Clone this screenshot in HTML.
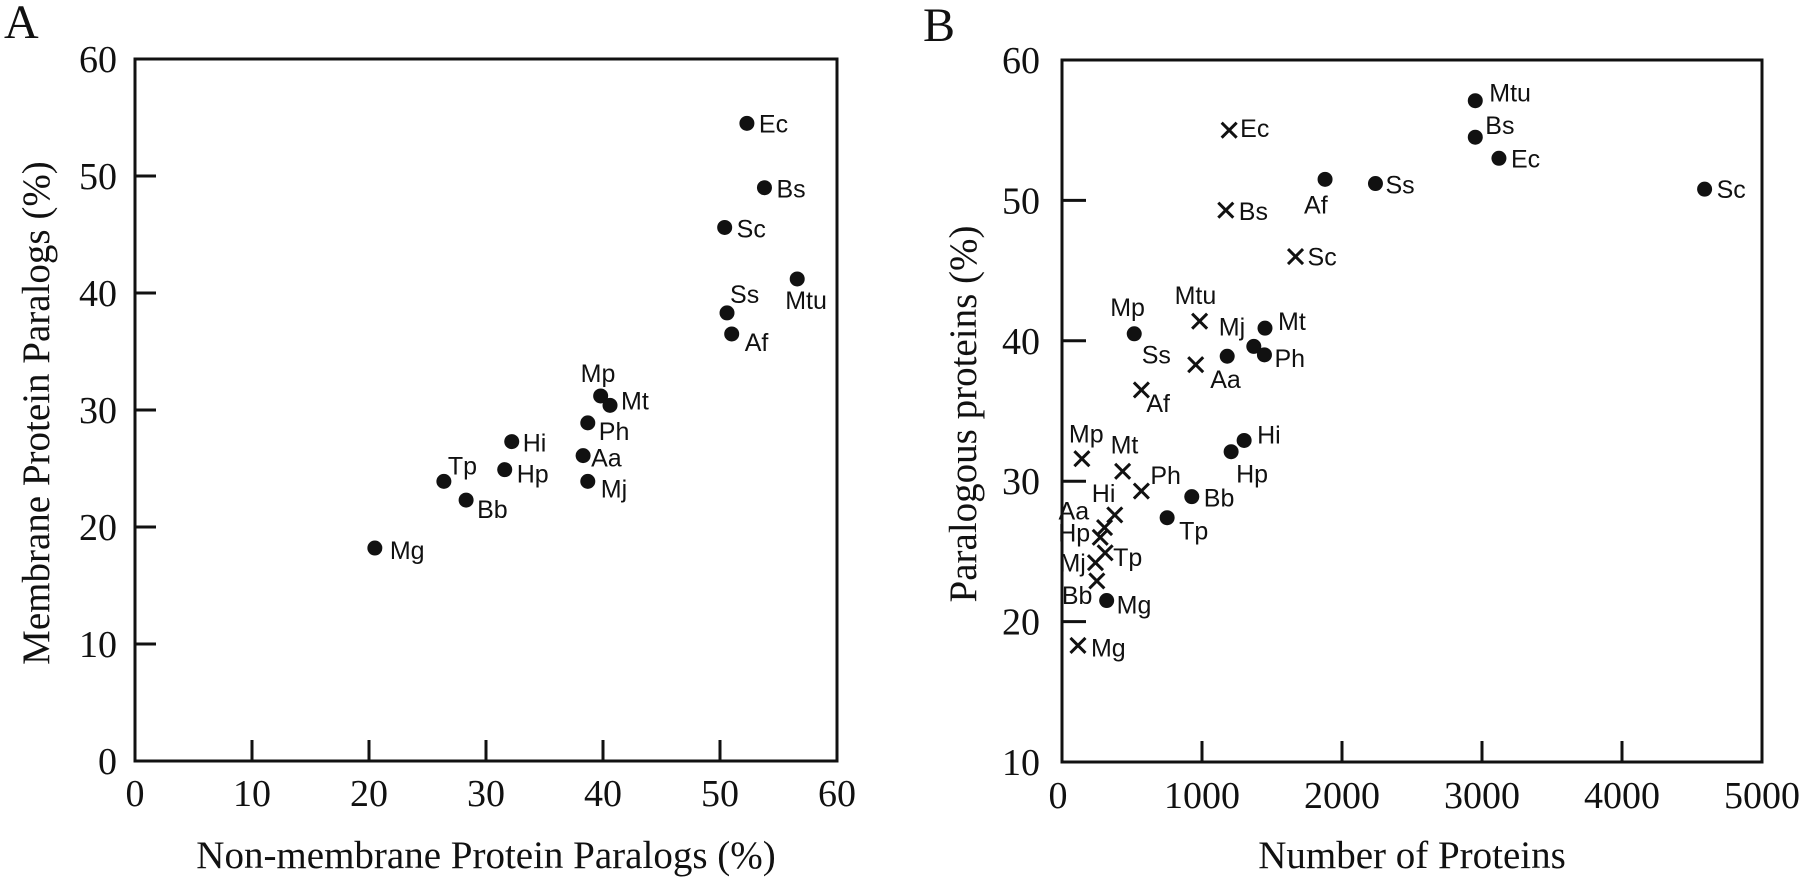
<!DOCTYPE html>
<html><head><meta charset="utf-8"><style>
html,body{margin:0;padding:0;background:#fff;}
svg{display:block;}
.tick{font-family:"Liberation Serif",serif;font-size:38px;fill:#111;}
.title{font-family:"Liberation Serif",serif;font-size:39px;fill:#111;}
.lbl{font-family:"Liberation Sans",sans-serif;font-size:25px;fill:#111;}
.panel{font-family:"Liberation Serif",serif;font-size:48px;fill:#111;}
</style></head><body>
<svg id="fig" width="1800" height="879" viewBox="0 0 1800 879" xmlns="http://www.w3.org/2000/svg"></svg>
<script>
// Panel A data
const aNames = ["Ec","Bs","Sc","Mtu","Ss","Af","Mp","Mt","Ph","Aa","Mj","Hi","Hp","Tp","Bb","Mg"];
const aX = [52.3,53.8,50.4,56.6,50.6,51.0,39.8,40.6,38.7,38.3,38.7,32.2,31.6,26.4,28.3,20.5];
const aY = [54.5,49.0,45.6,41.2,38.3,36.5,31.2,30.4,28.9,26.1,23.9,27.3,24.9,23.9,22.3,18.2];
const aTicks = [0,10,20,30,40,50,60];
// Panel B data: dots
const bDotNames = ["Mtu","Bs","Ec","Af","Ss","Sc","Mp","Mt","Mj","Ph","Aa","Hi","Hp","Bb","Tp","Mg"];
const bDotX = [2952,2952,3121,1879,2239,4590,516,1450,1370,1446,1180,1301,1208,927,751,319];
const bDotY = [57.1,54.5,53.0,51.5,51.2,50.8,40.5,40.9,39.6,39.0,38.9,32.9,32.1,28.9,27.4,21.5];
// Panel B data: crosses
const bCrossNames = ["Ec","Bs","Sc","Mtu","Ss","Af","Mp","Mt","Ph","Hi","Aa","Hp","Tp","Mj","Bb","Mg"];
const bCrossX = [1194,1170,1668,983,955,567,142,433,567,377,304,273,308,239,249,114];
const bCrossY = [55.0,49.3,46.0,41.4,38.3,36.5,31.6,30.7,29.3,27.6,26.7,26.0,24.9,24.2,22.9,18.3];
const bXTicks = [0,1000,2000,3000,4000,5000];
const bYTicks = [10,20,30,40,50,60];

// layout (label offsets in px)
const aOff = [[12,9],[12,10],[12,10],[-12,30],[3,-10],[13,17],[-20,-14],[11,4],[11,17],[8,11],[13,16],[11,10],[12,13],[4,-7],[11,18],[15,11]];
const bDotOff = [[14,1],[10,-3],[12,9],[-21,34],[10,10],[12,9],[-24,-18],[13,2],[-35,-11],[10,12],[-17,32],[13,3],[5,31],[12,10],[12,22],[10,13]];
const bCrossOff = [[11,7],[13,10],[12,9],[-25,-17],[-54,-1],[5,22],[-13,-16],[-12,-18],[9,-7],[-23,-13],[-46,-8],[-42,4],[8,13],[-36,9],[-35,23],[13,11]];

const NS="http://www.w3.org/2000/svg";
const svg=document.getElementById('fig');
function mk(tag,attrs,parent){const e=document.createElementNS(NS,tag);for(const k in attrs)e.setAttribute(k,attrs[k]);(parent||svg).appendChild(e);return e;}

const A={x0:135,x1:837,y0:761,y1:59,xmin:0,xmax:60,ymin:0,ymax:60};
const B={x0:1062,x1:1762,y0:762,y1:60,xmin:0,xmax:5000,ymin:10,ymax:60};
function sx(p,v){return p.x0+(v-p.xmin)/(p.xmax-p.xmin)*(p.x1-p.x0);}
function sy(p,v){return p.y0-(v-p.ymin)/(p.ymax-p.ymin)*(p.y0-p.y1);}

function frame(p,g){
  const r=mk('rect',{x:p.x0,y:p.y1,width:p.x1-p.x0,height:p.y0-p.y1,fill:'none',stroke:'#111','stroke-width':3},g);
  
  
}
function text(str,x,y,cls,g,anchor,name){
  const t=mk('text',{x:x,y:y,class:cls,'text-anchor':anchor||'start'},g);t.textContent=str;
  
  
  return t;
}

// ---- Panel A
const gA=mk('g',{});


text('A',4,38,'panel',gA,'start','panel-a-letter');
frame(A,gA);
aTicks.forEach(v=>{
  const x=sx(A,v), y=sy(A,v);
  if(v>0&&v<60){
    const l1=mk('line',{x1:x,y1:A.y0,x2:x,y2:A.y0-21,stroke:'#111','stroke-width':3},gA);
    
    
    const l2=mk('line',{x1:A.x0,y1:y,x2:A.x0+21,y2:y,stroke:'#111','stroke-width':3},gA);
    
    
  }
  text(String(v),x,806,'tick',gA,'middle','x-tick-label');
  text(String(v),117,y+13,'tick',gA,'end','y-tick-label');
});
text('Non-membrane Protein Paralogs (%)',(A.x0+A.x1)/2,868,'title',gA,'middle','x-axis-title');
const ta=text('Membrane Protein Paralogs (%)',0,0,'title',gA,'middle','y-axis-title');
ta.setAttribute('transform','translate(49,413) rotate(-90)');
aNames.forEach((n,i)=>{
  const cx=sx(A,aX[i]), cy=sy(A,aY[i]);
  const c=mk('circle',{cx:cx,cy:cy,r:7.5,fill:'#111'},gA);
  
  
  text(n,cx+aOff[i][0],cy+aOff[i][1],'lbl',gA,'start','point-label');
});

// ---- Panel B
const gB=mk('g',{});


text('B',923,41,'panel',gB,'start','panel-b-letter');
frame(B,gB);
bXTicks.forEach(v=>{
  const x=sx(B,v);
  if(v>0&&v<5000){
    const l=mk('line',{x1:x,y1:B.y0,x2:x,y2:B.y0-21,stroke:'#111','stroke-width':3},gB);
    
    
  }
  text(String(v),v===0?x-4:x,808,'tick',gB,'middle','x-tick-label');
});
bYTicks.forEach(v=>{
  const y=sy(B,v);
  if(v>10&&v<60){
    const l=mk('line',{x1:B.x0,y1:y,x2:B.x0+24,y2:y,stroke:'#111','stroke-width':3},gB);
    
    
  }
  text(String(v),1040,y+13,'tick',gB,'end','y-tick-label');
});
text('Number of Proteins',(B.x0+B.x1)/2,868,'title',gB,'middle','x-axis-title');
const tb=text('Paralogous proteins (%)',0,0,'title',gB,'middle','y-axis-title');
tb.setAttribute('transform','translate(976,414) rotate(-90)');
bDotNames.forEach((n,i)=>{
  const cx=sx(B,bDotX[i]), cy=sy(B,bDotY[i]);
  const c=mk('circle',{cx:cx,cy:cy,r:7.5,fill:'#111'},gB);
  
  
  text(n,cx+bDotOff[i][0],cy+bDotOff[i][1],'lbl',gB,'start','dot-label');
});
bCrossNames.forEach((n,i)=>{
  const cx=sx(B,bCrossX[i]), cy=sy(B,bCrossY[i]), s=7.5;
  const p=mk('path',{d:`M${cx-s},${cy-s}L${cx+s},${cy+s}M${cx-s},${cy+s}L${cx+s},${cy-s}`,stroke:'#111','stroke-width':3,fill:'none'},gB);
  
  
  text(n,cx+bCrossOff[i][0],cy+bCrossOff[i][1],'lbl',gB,'start','cross-label');
});
</script>
</body></html>
